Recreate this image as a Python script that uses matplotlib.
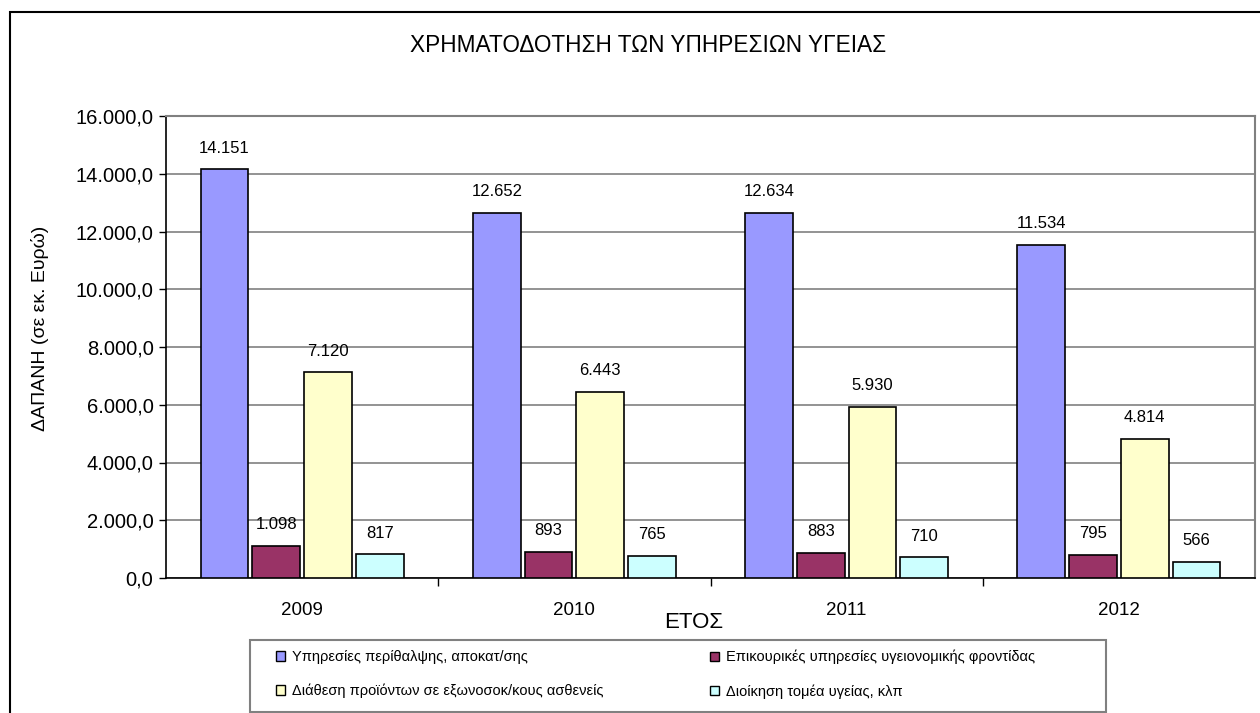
import matplotlib
matplotlib.use("Agg")
import matplotlib.pyplot as plt
from matplotlib.patches import Patch, Rectangle
from matplotlib.ticker import FuncFormatter, FixedLocator

plt.rcParams['font.family'] = ['Liberation Sans', 'DejaVu Sans']

years = ['2009', '2010', '2011', '2012']
series_names = [
    'Υπηρεσίες περίθαλψης, αποκατ/σης',
    'Επικουρικές υπηρεσίες υγειονομικής φροντίδας',
    'Διάθεση προϊόντων σε εξωνοσοκ/κους ασθενείς',
    'Διοίκηση τομέα υγείας, κλπ',
]
care = [14151, 12652, 12634, 11534]
auxiliary = [1098, 893, 883, 795]
products = [7120, 6443, 5930, 4814]
admin = [817, 765, 710, 566]
colors = ['#9999FF', '#993366', '#FFFFCC', '#CCFFFF']

W, H = 1260, 713
fig = plt.figure(figsize=(12.6, 7.13), dpi=100)
ax = fig.add_axes([166 / W, 1 - 578 / H, (1255 - 166) / W, (578 - 116) / H])


def fmt_label(v):
    return f'{v:,.0f}'.replace(',', '.')


def fmt_tick(v, pos):
    s = f'{v:,.1f}'
    return s.replace(',', 'X').replace('.', ',').replace('X', '.')


all_series = [care, auxiliary, products, admin]
step = 0.19
width = 0.176
xs = range(len(years))
for k, (vals, col) in enumerate(zip(all_series, colors)):
    pos = [x + (k - 1.5) * step for x in xs]
    bars = ax.bar(pos, vals, width=width, color=col, edgecolor='black',
                  linewidth=1.2, zorder=3)
    for b, v in zip(bars, vals):
        ax.annotate(fmt_label(v), (b.get_x() + b.get_width() / 2, v),
                    xytext=(0, 10), textcoords='offset points',
                    ha='center', va='bottom', fontsize=12)

ax.set_xlim(-0.5, 3.5)
ax.set_ylim(0, 16000)
ax.set_yticks(range(0, 16001, 2000))
ax.yaxis.set_major_formatter(FuncFormatter(fmt_tick))
ax.yaxis.grid(True, color='#808080', linewidth=1.2, zorder=0)
ax.tick_params(axis='y', labelsize=14.5, length=5, width=1, direction='out', pad=4)

ax.set_xticks(list(xs))
ax.set_xticklabels(years)
ax.xaxis.set_minor_locator(FixedLocator([0.5, 1.5, 2.5]))
ax.tick_params(axis='x', which='major', length=0, labelsize=13.5, pad=17)
ax.tick_params(axis='x', which='minor', length=6, width=1, direction='out')

for side in ['top', 'right']:
    ax.spines[side].set_color('#808080')
    ax.spines[side].set_linewidth(1.5)
ax.spines['left'].set_color('black')
ax.spines['bottom'].set_color('black')
ax.spines['left'].set_linewidth(1.2)
ax.spines['bottom'].set_linewidth(1.2)

fig.text(648 / W, 1 - 46 / H, 'ΧΡΗΜΑΤΟΔΟΤΗΣΗ ΤΩΝ ΥΠΗΡΕΣΙΩΝ ΥΓΕΙΑΣ',
         ha='center', va='center', fontsize=16.3)
fig.text(40 / W, 1 - 328 / H, 'ΔΑΠΑΝΗ (σε εκ. Ευρώ)', rotation=90,
         ha='center', va='center', fontsize=14)
fig.text(694 / W, 1 - 622 / H, 'ΕΤΟΣ', ha='center', va='center', fontsize=16)

# outer chart frame
fig.add_artist(Rectangle((10 / W, -0.05), 1.1, 1 - 12 / H + 0.05,
                         transform=fig.transFigure, fill=False,
                         edgecolor='black', linewidth=1.5))

# legend frame
fig.add_artist(Rectangle((250 / W, 1 - 712 / H), (1106 - 250) / W, 72 / H,
                         transform=fig.transFigure, fill=False,
                         edgecolor='#808080', linewidth=1.5))

handles = [Patch(facecolor=c, edgecolor='black', linewidth=1) for c in colors]
leg_kw = dict(frameon=False, fontsize=10.5, handlelength=0.65, handleheight=0.65,
              handletextpad=0.45, labelspacing=1.35, borderpad=0, borderaxespad=0,
              loc='upper left')
fig.legend([handles[0], handles[2]], [series_names[0], series_names[2]],
           bbox_to_anchor=(276 / W, 1 - 650 / H), **leg_kw)
fig.legend([handles[1], handles[3]], [series_names[1], series_names[3]],
           bbox_to_anchor=(710 / W, 1 - 650 / H), **leg_kw)

fig.savefig('out.png', dpi=100)
